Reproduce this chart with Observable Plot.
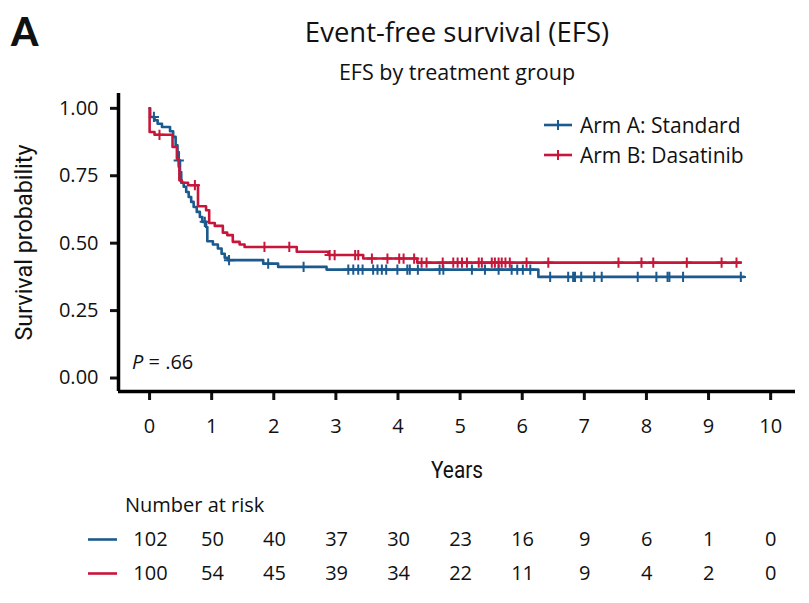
<!DOCTYPE html>
<html>
<head>
<meta charset="utf-8">
<script src="https://cdn.jsdelivr.net/npm/d3@7"></script>
<script src="https://cdn.jsdelivr.net/npm/@observablehq/plot@0.6"></script>
<style>
  html, body { margin: 0; padding: 0; background: #fff; }
  body { width: 809px; height: 603px; position: relative; overflow: hidden; font-family: "Open Sans", "Noto Sans", sans-serif; color: #111; }
  .abs { position: absolute; white-space: nowrap; }
  #panel { left: 11px; top: 8px; font-size: 39px; font-weight: 900; font-family: Lato, Arial, sans-serif; line-height: 1.2; }
  #title { left: 157px; width: 600px; top: 13px; text-align: center; font-size: 27.5px; }
  #subtitle { left: 157px; width: 600px; top: 57px; text-align: center; font-size: 21.5px; }
  #chart { position: absolute; left: 0; top: 85px; }
  #risk { position: absolute; left: 0; top: 520px; }
  #risktitle { left: 125px; top: 491px; font-size: 20px; }
  #pval { left: 132px; top: 348px; font-size: 20px; }
  .leg { position: absolute; left: 544px; font-size: 21px; display: flex; align-items: center; }
  .leg svg { margin-right: 8px; }
  g[aria-label="x-axis label"] text, g[aria-label="y-axis label"] text {
    font-family: Roboto, "Liberation Sans", sans-serif; font-size: 24px; fill: #111;
  }
</style>
</head>
<body>
<div id="panel" class="abs">A</div>
<div id="title" class="abs">Event-free survival (EFS)</div>
<div id="subtitle" class="abs">EFS by treatment group</div>
<div id="chart"></div>
<div id="pval" class="abs"></div>
<div id="leg"></div>
<div id="risktitle" class="abs">Number at risk</div>
<div id="risk"></div>
<script>
// ---- Data ----
const arms = ["Arm A: Standard", "Arm B: Dasatinib"];
const colors = ["#1b5a8e", "#c8163b"];

// Kaplan-Meier step points (time in years, survival probability)
const armATimes = [0, 0.01, 0.08, 0.13, 0.20, 0.33, 0.38, 0.42, 0.45, 0.47, 0.49, 0.51, 0.55, 0.59, 0.63, 0.67, 0.71, 0.76, 0.81, 0.85, 0.91, 0.93, 1.02, 1.10, 1.16, 1.21, 1.26, 1.83, 2.07, 2.85, 6.26, 9.57];
const armASurv  = [1.0, 0.968, 0.956, 0.943, 0.931, 0.915, 0.894, 0.863, 0.838, 0.807, 0.764, 0.724, 0.709, 0.690, 0.671, 0.653, 0.634, 0.616, 0.597, 0.579, 0.560, 0.507, 0.495, 0.480, 0.461, 0.446, 0.437, 0.424, 0.412, 0.402, 0.375, 0.375];
const armACensor = [0.07, 0.47, 0.89, 1.28, 1.91, 2.48, 3.20, 3.28, 3.36, 3.43, 3.60, 3.67, 3.74, 3.81, 3.99, 4.15, 4.19, 4.32, 4.67, 4.73, 5.19, 5.40, 5.62, 5.83, 5.92, 6.01, 6.13, 6.45, 6.74, 6.82, 6.85, 6.95, 7.16, 7.28, 7.86, 8.16, 8.34, 8.37, 8.59, 9.52];

const armBTimes = [0, 0.001, 0.08, 0.37, 0.44, 0.47, 0.48, 0.52, 0.62, 0.78, 0.91, 0.96, 1.05, 1.18, 1.25, 1.34, 1.45, 1.53, 2.37, 2.88, 3.44, 4.31, 9.52];
const armBSurv  = [1.0, 0.912, 0.902, 0.857, 0.813, 0.783, 0.733, 0.724, 0.715, 0.637, 0.622, 0.575, 0.564, 0.539, 0.530, 0.505, 0.495, 0.486, 0.468, 0.456, 0.443, 0.428, 0.428];
const armBCensor = [0.16, 0.73, 1.85, 2.25, 2.90, 2.98, 3.31, 3.36, 3.58, 3.83, 4.02, 4.09, 4.26, 4.38, 4.46, 4.72, 4.89, 4.96, 5.03, 5.11, 5.30, 5.35, 5.51, 5.56, 5.62, 5.67, 5.73, 5.80, 6.07, 6.42, 7.55, 7.92, 8.11, 8.65, 9.21, 9.45];

// Number at risk
const riskTimes = [0, 1, 2, 3, 4, 5, 6, 7, 8, 9, 10];
const riskA = [102, 50, 40, 37, 30, 23, 16, 9, 6, 1, 0];
const riskB = [100, 54, 45, 39, 34, 22, 11, 9, 4, 2, 0];

const xTicks = [0, 1, 2, 3, 4, 5, 6, 7, 8, 9, 10];
const yTicks = [0, 0.25, 0.5, 0.75, 1.0];
const xDomain = [-0.5, 10.4];
const yDomain = [-0.05, 1.055];
const pText = ".66";

// ---- Build tables ----
const curveA = armATimes.map((t, i) => ({t, s: armASurv[i], arm: arms[0]}));
const curveB = armBTimes.map((t, i) => ({t, s: armBSurv[i], arm: arms[1]}));
function survAt(times, surv, t) {
  let v = surv[0];
  for (let i = 0; i < times.length; i++) { if (times[i] <= t) v = surv[i]; else break; }
  return v;
}
const censA = armACensor.map(t => ({t, s: survAt(armATimes, armASurv, t)}));
const censB = armBCensor.map(t => ({t, s: survAt(armBTimes, armBSurv, t)}));

const baseStyle = {fontFamily: "'Open Sans', 'Noto Sans', sans-serif", fontSize: "20px", color: "#111", overflow: "visible", background: "transparent"};

const chart = Plot.plot({
  width: 809, height: 400,
  marginLeft: 118, marginRight: 14, marginTop: 8, marginBottom: 94,
  style: baseStyle,
  x: {domain: xDomain},
  y: {domain: yDomain},
  marks: [
    Plot.axisX({ticks: xTicks, tickSize: 9, tickPadding: 18, strokeWidth: 3, fontSize: 20,
      label: "Years", labelAnchor: "center", labelOffset: 86, labelArrow: "none"}),
    Plot.axisY({ticks: yTicks, tickFormat: d3.format(".2f"), tickSize: 8, tickPadding: 12, strokeWidth: 3, fontSize: 20,
      label: "Survival probability", labelAnchor: "center", labelOffset: 104, labelArrow: "none"}),
    Plot.ruleX([xDomain[0]], {strokeWidth: 3.5, stroke: "#000"}),
    Plot.ruleY([yDomain[0]], {strokeWidth: 3.5, stroke: "#000"}),
    Plot.line(curveA, {x: "t", y: "s", curve: "step-after", stroke: colors[0], strokeWidth: 2.6}),
    Plot.dot(censA, {x: "t", y: "s", symbol: "plus", r: 3.4, stroke: colors[0], strokeWidth: 2}),
    Plot.line(curveB, {x: "t", y: "s", curve: "step-after", stroke: colors[1], strokeWidth: 2.6}),
    Plot.dot(censB, {x: "t", y: "s", symbol: "plus", r: 3.4, stroke: colors[1], strokeWidth: 2})
  ]
});
document.getElementById("chart").append(chart);
// condensed look for the axis titles
chart.querySelectorAll('g[aria-label="x-axis label"] text').forEach(t => {
  t.setAttribute("textLength", 52); t.setAttribute("lengthAdjust", "spacingAndGlyphs");
});
chart.querySelectorAll('g[aria-label="y-axis label"] text').forEach(t => {
  t.setAttribute("textLength", 196); t.setAttribute("lengthAdjust", "spacingAndGlyphs");
});

// Legend
const legHost = document.getElementById("leg");
arms.forEach((a, i) => {
  const div = document.createElement("div");
  div.className = "leg";
  div.style.top = (111 + i * 30) + "px";
  div.innerHTML = `<svg width="28" height="14"><line x1="0" y1="7" x2="28" y2="7" stroke="${colors[i]}" stroke-width="2.6"/><line x1="14" y1="2" x2="14" y2="12" stroke="${colors[i]}" stroke-width="2"/></svg><span>${a}</span>`;
  legHost.append(div);
});
document.getElementById("pval").innerHTML = `<i>P</i> = ${pText}`;

// Number at risk table
const riskRows = [
  ...riskTimes.map((t, i) => ({t, n: riskA[i], arm: arms[0]})),
  ...riskTimes.map((t, i) => ({t, n: riskB[i], arm: arms[1]}))
];
const risk = Plot.plot({
  width: 809, height: 70,
  marginLeft: 88, marginRight: 14, marginTop: 19, marginBottom: 17,
  style: baseStyle,
  x: {domain: [-1, 10.4], axis: null},
  y: {type: "point", domain: arms, padding: 0, axis: null},
  color: {domain: arms, range: colors},
  marks: [
    Plot.ruleY(arms, {y: d => d, stroke: d => d, strokeWidth: 2.6, insetRight: 678}),
    Plot.text(riskRows, {x: "t", y: "arm", text: d => String(d.n), fontSize: 20, fill: "#111"})
  ]
});
document.getElementById("risk").append(risk);
</script>
</body>
</html>
